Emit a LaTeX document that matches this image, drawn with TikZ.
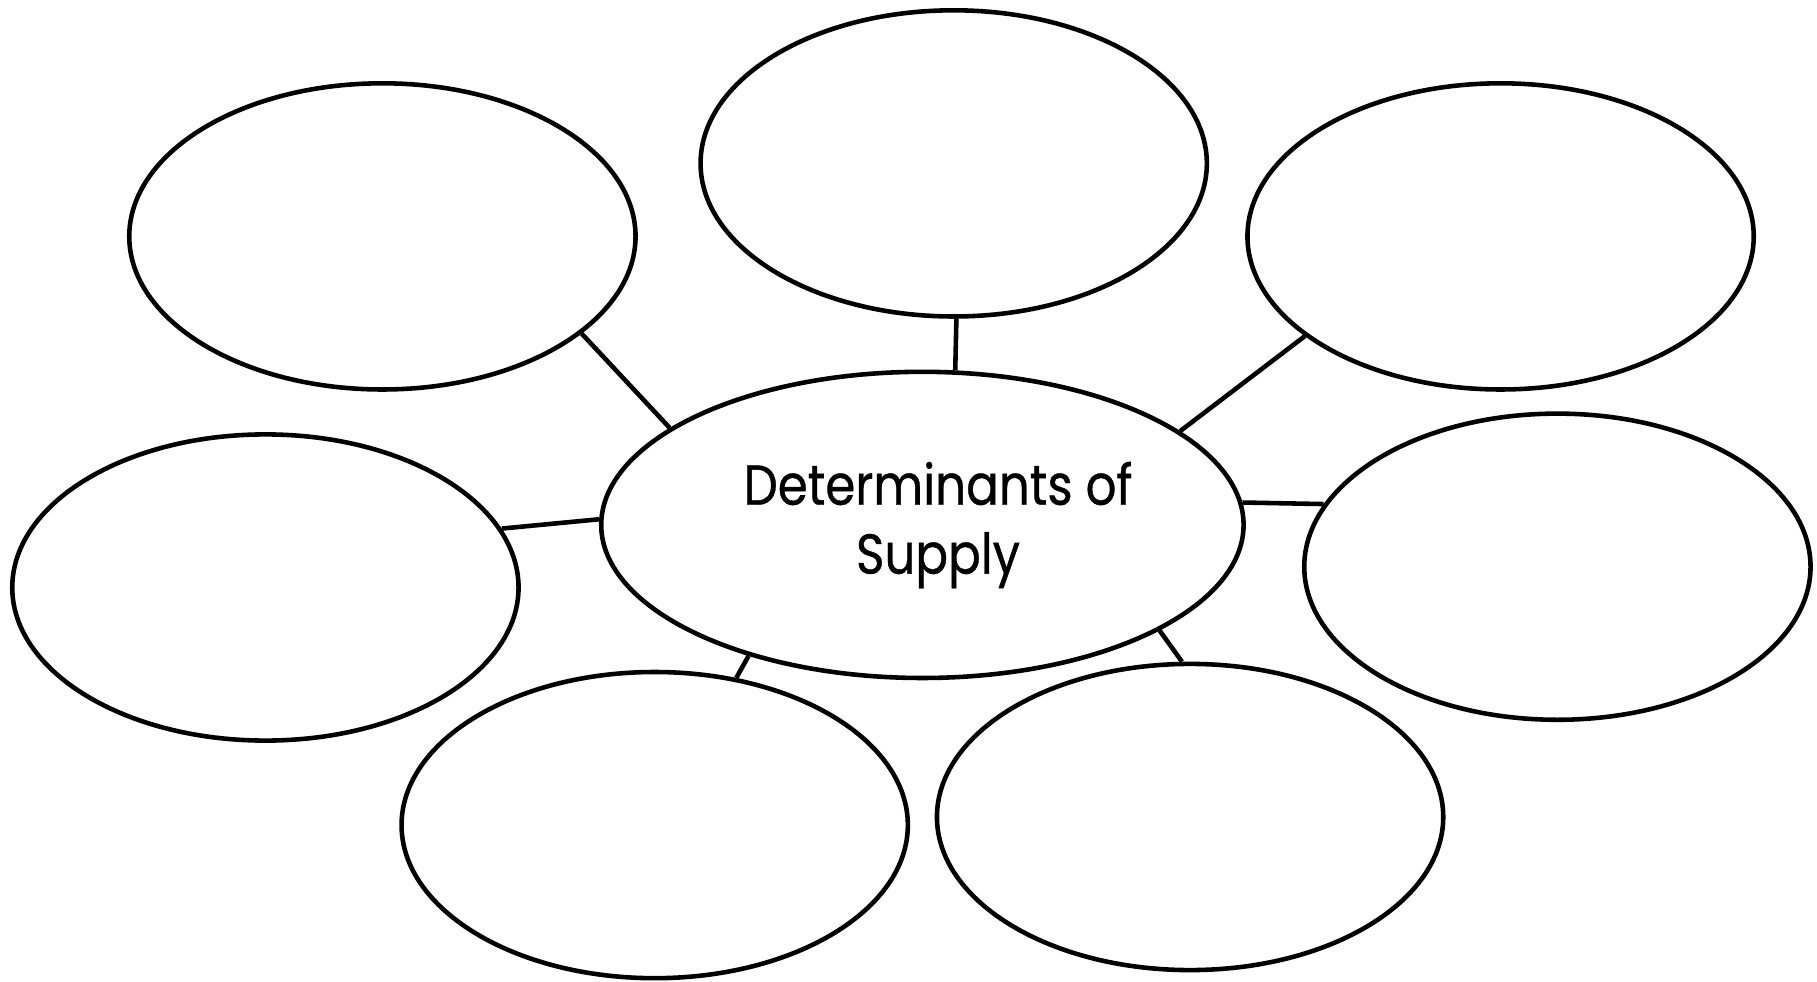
\documentclass[tikz,border=0pt]{standalone}
\usepackage{fontspec}
\setmainfont{Poppins}[FakeBold=0.7]
\usetikzlibrary{shapes.geometric}
\begin{document}
\begin{tikzpicture}[x=0.01cm,y=-0.01cm,
  bubble/.style={draw=black,line width=1.3pt,ellipse,inner sep=0pt,
    minimum width=5.06cm,minimum height=3.06cm},
  hub/.style={bubble,minimum width=6.42cm,minimum height=3.06cm},
  link/.style={draw=black,line width=1.3pt},
  title/.style={align=center,font=\fontsize{16}{19.6}\selectfont,inner sep=0pt,xscale=0.86}]
\useasboundingbox (0,0) rectangle (1817,982);
% central ellipse and its title
\node[hub] (c) at (922.4,524.9) {};
\node[title] (t) at (938,525) {Determinants of\\Supply};
% surrounding ellipses
\node[bubble] (tl) at (382.4,236.4) {};
\node[bubble] (tm) at (953.7,163.4) {};
\node[bubble] (tr) at (1500.6,236.4) {};
\node[bubble] (l)  at (265.4,587.5) {};
\node[bubble] (r)  at (1557.4,566.7) {};
\node[bubble] (bl) at (654.7,825.1) {};
\node[bubble] (br) at (1190.1,817.0) {};
% spokes
\draw[link] (tl.-26.6) -- (c.159.5);
\draw[link] (tm.-89.1) -- (c.78.7);
\draw[link] (tr.-153.4) -- (c.20.2);
\draw[link] (l.14.5) -- (c.179.4);
\draw[link] (c.4.4) -- (r.165.2);
\draw[link] (c.-143.8) -- (bl.61);
\draw[link] (c.-24) -- (br.93);
\end{tikzpicture}
\end{document}
